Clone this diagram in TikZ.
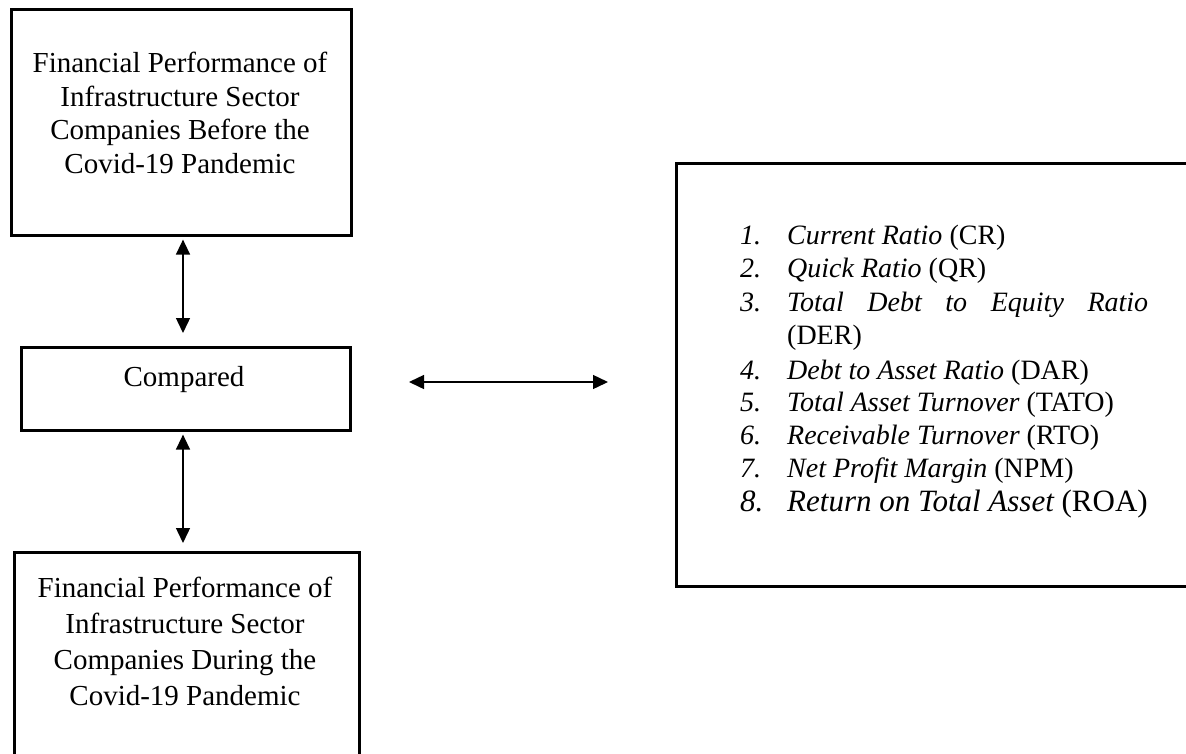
\documentclass[tikz,border=0pt]{standalone}
\usepackage{fontspec}
\setmainfont{Liberation Serif}
\usetikzlibrary{arrows.meta}
\begin{document}
\begin{tikzpicture}[x=1pt,y=-1pt,
  box/.style={draw=black, line width=2.6pt, inner sep=0pt, anchor=north west},
  txt/.style={inner sep=0pt, align=center, font=\fontsize{29}{34}\selectfont},
  dbl/.style={{Triangle[length=15pt,width=14pt]}-{Triangle[length=15pt,width=14pt]}, line width=1.4pt},
  item/.style={inner sep=0pt, anchor=base west, font=\fontsize{28}{33}\selectfont}]
\useasboundingbox (0,0) rectangle (1186,753);
% boxes
\node[box, minimum width=340pt, minimum height=226pt] (top) at (10,8) {};
\node[box, minimum width=329pt, minimum height=83pt] (cmp) at (20,346) {};
\node[box, minimum width=345pt, minimum height=240pt] (bot) at (13,551) {};
\node[box, minimum width=540pt, minimum height=423pt] (rbox) at (675,162) {};
% texts
\node[txt, anchor=north] (ttop) at (180,52) {Financial Performance of\\[-0.5pt] Infrastructure Sector\\[-0.5pt] Companies Before the\\[-0.5pt] Covid-19 Pandemic};
\node[txt, anchor=base] (tcmp) at (184,386.5) {Compared};
\node[txt, anchor=north, font=\fontsize{29}{36}\selectfont] (tbot) at (185,577) {Financial Performance of\\ Infrastructure Sector\\ Companies During the\\ Covid-19 Pandemic};
% list
\node[item] (n1) at (740,244) {\itshape 1.};
\node[item] (i1) at (787,244) {\itshape Current Ratio \upshape(CR)};
\node[item] (n2) at (740,277) {\itshape 2.};
\node[item] (i2) at (787,277) {\itshape Quick Ratio \upshape(QR)};
\node[item] (n3) at (740,311) {\itshape 3.};
\node[item] (i3) at (787,311) {\makebox[361pt][s]{\itshape Total Debt to Equity Ratio}};
\node[item] (i3b) at (787,344) {(DER)};
\node[item] (n4) at (740,379) {\itshape 4.};
\node[item] (i4) at (787,379) {\itshape Debt to Asset Ratio \upshape(DAR)};
\node[item] (n5) at (740,411) {\itshape 5.};
\node[item] (i5) at (787,411) {\itshape Total Asset Turnover \upshape(TATO)};
\node[item] (n6) at (740,444) {\itshape 6.};
\node[item] (i6) at (787,444) {\itshape Receivable Turnover \upshape(RTO)};
\node[item] (n7) at (740,477) {\itshape 7.};
\node[item] (i7) at (787,477) {\itshape Net Profit Margin \upshape(NPM)};
\node[item, font=\fontsize{31}{36}\selectfont] (n8) at (740,511) {\itshape 8.};
\node[item, font=\fontsize{31}{36}\selectfont] (i8) at (787,511) {\itshape Return on Total Asset \upshape(ROA)};
% connectors
\coordinate (a1s) at (183,237);
\coordinate (a1e) at (183,333);
\coordinate (a2s) at (183,432);
\coordinate (a2e) at (183,543);
\coordinate (hL) at (409,382);
\coordinate (hR) at (608,382);
\draw[dbl] (top.south -| a1s) ++(0,3) -- (a1e);
\draw[dbl] (cmp.south -| a2s) ++(0,3) -- (a2e);
\draw[dbl] (hL) -- (hR);
\end{tikzpicture}
\end{document}
